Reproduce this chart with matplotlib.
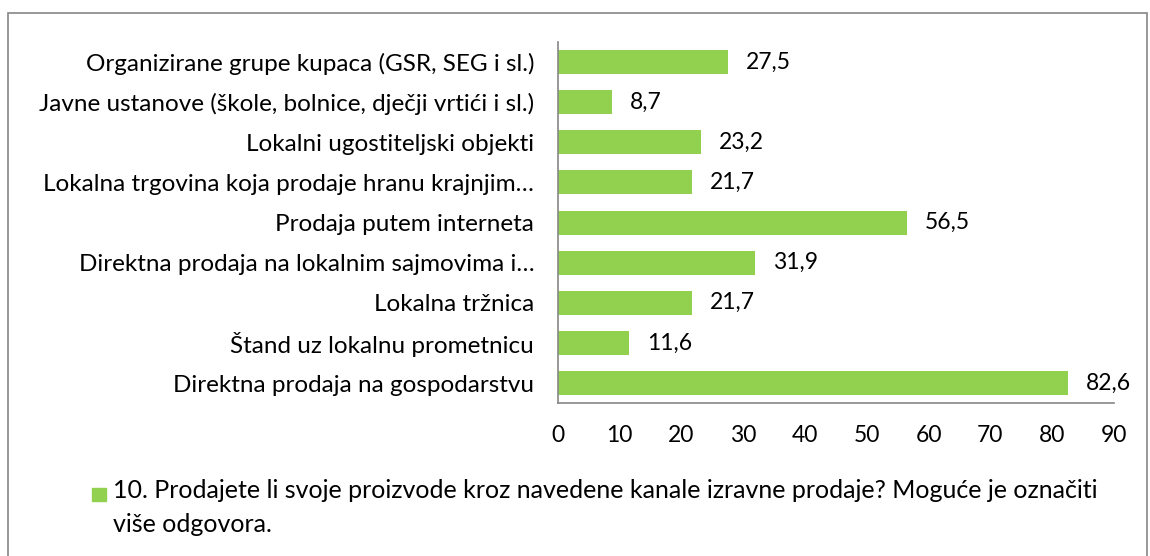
import matplotlib.pyplot as plt
from matplotlib.patches import Rectangle

categories = [
    "Organizirane grupe kupaca (GSR, SEG i sl.)",
    "Javne ustanove (škole, bolnice, dječji vrtići i sl.)",
    "Lokalni ugostiteljski objekti",
    "Lokalna trgovina koja prodaje hranu krajnjim…",
    "Prodaja putem interneta",
    "Direktna prodaja na lokalnim sajmovima i…",
    "Lokalna tržnica",
    "Štand uz lokalnu prometnicu",
    "Direktna prodaja na gospodarstvu",
]
values = [27.5, 8.7, 23.2, 21.7, 56.5, 31.9, 21.7, 11.6, 82.6]
xticks = [0, 10, 20, 30, 40, 50, 60, 70, 80, 90]
legend_label = ("10. Prodajete li svoje proizvode kroz navedene kanale izravne prodaje? Moguće je označiti\n"
                "više odgovora.")

green = "#92D050"
plt.rcParams['font.family'] = ['Lato', 'DejaVu Sans']

fig = plt.figure(figsize=(11.5, 5.56), dpi=100)
ax = fig.add_axes([0.485, 0.275, 0.4837, 0.6495])

ypos = list(range(len(categories)))
ax.barh(ypos, values, height=0.6, color=green)
for y, v in zip(ypos, values):
    ax.annotate(f"{v:.1f}".replace(".", ","), (v, y), xytext=(13, 0),
                textcoords="offset points", va="center", ha="left", fontsize=16.5)

ax.set_yticks(ypos)
ax.set_yticklabels(categories, fontsize=17.5)
ax.set_ylim(len(categories) - 0.5, -0.5)
ax.set_xlim(0, 90)
ax.set_xticks(xticks)
ax.set_xticklabels([str(t) for t in xticks], fontsize=16.5)
ax.tick_params(length=0)
ax.tick_params(axis="x", pad=16)
ax.tick_params(axis="y", pad=17)
for s in ["top", "right"]:
    ax.spines[s].set_visible(False)
for s in ["left", "bottom"]:
    ax.spines[s].set_color("#868686")
    ax.spines[s].set_linewidth(1.2)

# legend
fig.patches.append(Rectangle((92 / 1150, 1 - 501 / 556), 14 / 1150, 13 / 556,
                             transform=fig.transFigure, color=green))
fig.text(113 / 1150, 1 - 479 / 556, legend_label, fontsize=18, va="top", ha="left",
         linespacing=1.6)

# chart border
fig.patches.append(Rectangle((8 / 1150, -0.1), 1139 / 1150, 1.1 - 13 / 556,
                             transform=fig.transFigure, fill=False,
                             edgecolor="#868686", linewidth=1.2))

fig.savefig("out.png", dpi=100)
